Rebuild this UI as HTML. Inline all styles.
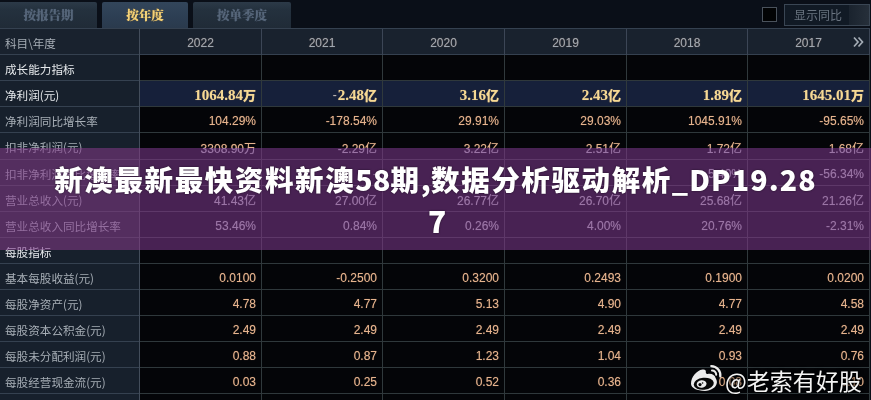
<!DOCTYPE html>
<html><head><meta charset="utf-8">
<style>
*{margin:0;padding:0;box-sizing:border-box}
html,body{width:871px;height:400px;overflow:hidden;background:#0a0f18}
body{position:relative;font-family:"Liberation Sans","Noto Sans CJK SC",sans-serif;}
.tab{position:absolute;top:2px;height:26px;border-radius:2px 2px 0 0;background:linear-gradient(#2c3a48,#24313e 30%,#202b37);font:900 12.5px "Noto Serif CJK SC",serif;color:#56667a;text-align:center;line-height:26px;text-shadow:0 0 1px #4a586a}
.tab.act{background:linear-gradient(#33465b,#2d3f54 50%,#2a3a4d);color:#f2d27a;text-shadow:0 0 1px #c08a30}
.chk{position:absolute;left:762px;top:7px;width:15px;height:15px;background:#020304;border:1px solid #4a525c}
.btn{position:absolute;left:784px;top:4px;width:86px;height:22px;border:1px solid #3a4654;background:#111a25;font:12px "Noto Sans CJK SC",sans-serif;color:#6a7480;line-height:20px;padding-left:9px}
.btn i{position:absolute;right:0;top:0;width:20px;height:20px;background:linear-gradient(90deg,#1a232e,#262f3a)}
.row{position:absolute;left:0;width:871px}
.c{position:absolute;top:0;height:100%;display:flex;align-items:center;white-space:nowrap;padding-top:2px}
.lab{left:0;width:140px;background:#17202c;color:#a7aeb6;font-size:11.6px;padding-left:5px;font-family:"Noto Sans CJK SC",sans-serif}
.sec .lab{color:#e6e9ec}
.hl .lab{color:#e6e9ec}
.d{background:#040508;justify-content:flex-end;padding-right:5px;color:#e6b48e;text-shadow:0 0 1px rgba(230,170,130,.5);font-size:12px;font-family:"Liberation Sans","Noto Sans CJK SC",sans-serif}
.hl .d{background:#16203a;color:#f5d994;padding-top:3px;padding-right:5px;font-weight:bold;font-family:"Liberation Serif",serif;font-size:15px}
.hl .d .u{font:900 13px "Noto Sans CJK SC",sans-serif;position:relative;top:-1px}
.hl .d .m{font:12px "Liberation Sans",sans-serif;color:#b8b8b8;margin-right:1px}
.hdr .c{background:#19222e}
.hdr .d{color:#9ea7b1;justify-content:center;padding:3px 0 0}
.hline{position:absolute;left:0;width:870px;height:1px;background:#2f383b}
.hline.hb{background:#354150}
.vline{position:absolute;top:29px;width:1px;height:371px;background:#30393c}
.vline.vb{background:#434d5b}
.vline.vh{height:26px;background:#3c4656}
.banner{position:absolute;left:0;top:148px;width:871px;height:102px;background:rgba(128,58,148,0.55);-webkit-backdrop-filter:grayscale(1);backdrop-filter:grayscale(1)}
.title{position:absolute;left:0;top:159px;width:871px;text-align:center;color:#fff;white-space:nowrap;font:900 28.5px/40px "Noto Sans CJK SC",sans-serif;letter-spacing:1.6px;text-shadow:0 0 2px rgba(0,0,0,.6)}
.title span{letter-spacing:0.3px}
.title span.dp{letter-spacing:1.1px}
.t7{position:absolute;left:428px;top:200px;color:#fff;font:900 30px/40px "Noto Sans CJK SC",sans-serif;text-shadow:0 0 2px rgba(0,0,0,.6)}
.wm{position:absolute;left:725px;top:363px;font:23px "Noto Sans CJK SC",sans-serif;color:#f4f4f4;text-shadow:0 0 1px #000,0 0 3px rgba(0,0,0,.9),0 0 5px rgba(0,0,0,.6)}
.arr{position:absolute;left:853px;top:36px}
</style></head><body>
<div class="tab" style="left:0;width:97px;border-top-left-radius:0">按报告期</div>
<div class="tab act" style="left:102px;width:86px">按年度</div>
<div class="tab" style="left:193px;width:98px">按单季度</div>
<div class="chk"></div>
<div class="btn">显示同比<i></i></div>

<div class="row hdr" style="top:29px;height:25px">
<div class="c lab">科目\年度</div>
<div class="c d" style="left:140px;width:121px">2022</div>
<div class="c d" style="left:262px;width:120px">2021</div>
<div class="c d" style="left:383px;width:121px">2020</div>
<div class="c d" style="left:505px;width:121px">2019</div>
<div class="c d" style="left:627px;width:120px">2018</div>
<div class="c d" style="left:748px;width:121px">2017</div>
</div>
<div class="row sec" style="top:55px;height:25px">
<div class="c lab">成长能力指标</div>
<div class="c d" style="left:140px;width:121px"></div>
<div class="c d" style="left:262px;width:120px"></div>
<div class="c d" style="left:383px;width:121px"></div>
<div class="c d" style="left:505px;width:121px"></div>
<div class="c d" style="left:627px;width:120px"></div>
<div class="c d" style="left:748px;width:121px"></div>
</div>
<div class="row hl" style="top:81px;height:25px">
<div class="c lab">净利润(元)</div>
<div class="c d" style="left:140px;width:121px">1064.84<span class="u">万</span></div>
<div class="c d" style="left:262px;width:120px"><span class="m">-</span>2.48<span class="u">亿</span></div>
<div class="c d" style="left:383px;width:121px">3.16<span class="u">亿</span></div>
<div class="c d" style="left:505px;width:121px">2.43<span class="u">亿</span></div>
<div class="c d" style="left:627px;width:120px">1.89<span class="u">亿</span></div>
<div class="c d" style="left:748px;width:121px">1645.01<span class="u">万</span></div>
</div>
<div class="row " style="top:107px;height:25px">
<div class="c lab">净利润同比增长率</div>
<div class="c d" style="left:140px;width:121px">104.29%</div>
<div class="c d" style="left:262px;width:120px">-178.54%</div>
<div class="c d" style="left:383px;width:121px">29.91%</div>
<div class="c d" style="left:505px;width:121px">29.03%</div>
<div class="c d" style="left:627px;width:120px">1045.91%</div>
<div class="c d" style="left:748px;width:121px">-95.65%</div>
</div>
<div class="row " style="top:133px;height:26px">
<div class="c lab">扣非净利润(元)</div>
<div class="c d" style="left:140px;width:121px">3308.90万</div>
<div class="c d" style="left:262px;width:120px">-2.29亿</div>
<div class="c d" style="left:383px;width:121px">3.22亿</div>
<div class="c d" style="left:505px;width:121px">2.51亿</div>
<div class="c d" style="left:627px;width:120px">1.72亿</div>
<div class="c d" style="left:748px;width:121px">1.68亿</div>
</div>
<div class="row " style="top:160px;height:25px">
<div class="c lab">扣非净利润同比增长率</div>
<div class="c d" style="left:140px;width:121px">-</div>
<div class="c d" style="left:262px;width:120px">-</div>
<div class="c d" style="left:383px;width:121px">-</div>
<div class="c d" style="left:505px;width:121px">-</div>
<div class="c d" style="left:627px;width:120px">5.40%</div>
<div class="c d" style="left:748px;width:121px">-56.34%</div>
</div>
<div class="row " style="top:186px;height:25px">
<div class="c lab">营业总收入(元)</div>
<div class="c d" style="left:140px;width:121px">41.43亿</div>
<div class="c d" style="left:262px;width:120px">27.00亿</div>
<div class="c d" style="left:383px;width:121px">26.77亿</div>
<div class="c d" style="left:505px;width:121px">26.70亿</div>
<div class="c d" style="left:627px;width:120px">25.68亿</div>
<div class="c d" style="left:748px;width:121px">21.26亿</div>
</div>
<div class="row " style="top:212px;height:25px">
<div class="c lab">营业总收入同比增长率</div>
<div class="c d" style="left:140px;width:121px">53.46%</div>
<div class="c d" style="left:262px;width:120px">0.84%</div>
<div class="c d" style="left:383px;width:121px">0.26%</div>
<div class="c d" style="left:505px;width:121px">4.00%</div>
<div class="c d" style="left:627px;width:120px">20.76%</div>
<div class="c d" style="left:748px;width:121px">-2.31%</div>
</div>
<div class="row sec" style="top:238px;height:25px">
<div class="c lab">每股指标</div>
<div class="c d" style="left:140px;width:121px"></div>
<div class="c d" style="left:262px;width:120px"></div>
<div class="c d" style="left:383px;width:121px"></div>
<div class="c d" style="left:505px;width:121px"></div>
<div class="c d" style="left:627px;width:120px"></div>
<div class="c d" style="left:748px;width:121px"></div>
</div>
<div class="row " style="top:264px;height:25px">
<div class="c lab">基本每股收益(元)</div>
<div class="c d" style="left:140px;width:121px">0.0100</div>
<div class="c d" style="left:262px;width:120px">-0.2500</div>
<div class="c d" style="left:383px;width:121px">0.3200</div>
<div class="c d" style="left:505px;width:121px">0.2493</div>
<div class="c d" style="left:627px;width:120px">0.1900</div>
<div class="c d" style="left:748px;width:121px">0.0200</div>
</div>
<div class="row " style="top:290px;height:25px">
<div class="c lab">每股净资产(元)</div>
<div class="c d" style="left:140px;width:121px">4.78</div>
<div class="c d" style="left:262px;width:120px">4.77</div>
<div class="c d" style="left:383px;width:121px">5.13</div>
<div class="c d" style="left:505px;width:121px">4.90</div>
<div class="c d" style="left:627px;width:120px">4.77</div>
<div class="c d" style="left:748px;width:121px">4.58</div>
</div>
<div class="row " style="top:316px;height:25px">
<div class="c lab">每股资本公积金(元)</div>
<div class="c d" style="left:140px;width:121px">2.49</div>
<div class="c d" style="left:262px;width:120px">2.49</div>
<div class="c d" style="left:383px;width:121px">2.49</div>
<div class="c d" style="left:505px;width:121px">2.49</div>
<div class="c d" style="left:627px;width:120px">2.49</div>
<div class="c d" style="left:748px;width:121px">2.49</div>
</div>
<div class="row " style="top:342px;height:25px">
<div class="c lab">每股未分配利润(元)</div>
<div class="c d" style="left:140px;width:121px">0.88</div>
<div class="c d" style="left:262px;width:120px">0.87</div>
<div class="c d" style="left:383px;width:121px">1.23</div>
<div class="c d" style="left:505px;width:121px">1.04</div>
<div class="c d" style="left:627px;width:120px">0.93</div>
<div class="c d" style="left:748px;width:121px">0.76</div>
</div>
<div class="row " style="top:368px;height:25px">
<div class="c lab">每股经营现金流(元)</div>
<div class="c d" style="left:140px;width:121px">0.03</div>
<div class="c d" style="left:262px;width:120px">0.25</div>
<div class="c d" style="left:383px;width:121px">0.52</div>
<div class="c d" style="left:505px;width:121px">0.36</div>
<div class="c d" style="left:627px;width:120px">0.08</div>
<div class="c d" style="left:748px;width:121px">0.10</div>
</div>
<div class="row " style="top:394px;height:6px">
<div class="c lab"></div>
<div class="c d" style="left:140px;width:121px"></div>
<div class="c d" style="left:262px;width:120px"></div>
<div class="c d" style="left:383px;width:121px"></div>
<div class="c d" style="left:505px;width:121px"></div>
<div class="c d" style="left:627px;width:120px"></div>
<div class="c d" style="left:748px;width:121px"></div>
</div>
<div class="hline hb" style="top:28px"></div>
<div class="hline hb" style="top:54px"></div>
<div class="hline hb" style="top:80px;width:139px"></div>
<div class="hline" style="top:80px;left:139px;width:731px"></div>
<div class="hline hb" style="top:106px;width:139px"></div>
<div class="hline" style="top:106px;left:139px;width:731px"></div>
<div class="hline hb" style="top:132px;width:139px"></div>
<div class="hline" style="top:132px;left:139px;width:731px"></div>
<div class="hline hb" style="top:159px;width:139px"></div>
<div class="hline" style="top:159px;left:139px;width:731px"></div>
<div class="hline hb" style="top:185px;width:139px"></div>
<div class="hline" style="top:185px;left:139px;width:731px"></div>
<div class="hline hb" style="top:211px;width:139px"></div>
<div class="hline" style="top:211px;left:139px;width:731px"></div>
<div class="hline hb" style="top:237px;width:139px"></div>
<div class="hline" style="top:237px;left:139px;width:731px"></div>
<div class="hline hb" style="top:263px;width:139px"></div>
<div class="hline" style="top:263px;left:139px;width:731px"></div>
<div class="hline hb" style="top:289px;width:139px"></div>
<div class="hline" style="top:289px;left:139px;width:731px"></div>
<div class="hline hb" style="top:315px;width:139px"></div>
<div class="hline" style="top:315px;left:139px;width:731px"></div>
<div class="hline hb" style="top:341px;width:139px"></div>
<div class="hline" style="top:341px;left:139px;width:731px"></div>
<div class="hline hb" style="top:367px;width:139px"></div>
<div class="hline" style="top:367px;left:139px;width:731px"></div>
<div class="hline hb" style="top:393px;width:139px"></div>
<div class="hline" style="top:393px;left:139px;width:731px"></div>
<div class="vline vb" style="left:139px"></div>
<div class="vline vh" style="left:261px"></div>
<div class="vline" style="left:261px;top:55px;height:345px"></div>
<div class="vline vh" style="left:382px"></div>
<div class="vline" style="left:382px;top:55px;height:345px"></div>
<div class="vline vh" style="left:504px"></div>
<div class="vline" style="left:504px;top:55px;height:345px"></div>
<div class="vline vh" style="left:626px"></div>
<div class="vline" style="left:626px;top:55px;height:345px"></div>
<div class="vline vh" style="left:747px"></div>
<div class="vline" style="left:747px;top:55px;height:345px"></div>
<div class="vline vh" style="left:869px"></div>
<div class="vline" style="left:869px;top:55px;height:345px"></div>
<svg class="arr" width="12" height="12" viewBox="0 0 12 12"><path d="M1,1.5 L5,6 L1,10.5 M5.5,1.5 L9.5,6 L5.5,10.5" fill="none" stroke="#a4acb5" stroke-width="1.7"/></svg>
<div class="banner"></div>
<div class="title">新澳最新最快资料新澳<span>58</span>期<span>,</span>数据分析驱动解析<span class="dp">_DP19.28</span></div>
<div class="t7">7</div>
<svg class="wb" width="36" height="32" viewBox="0 0 36 32" style="position:absolute;left:688px;top:362px">
<path d="M3,21.8 C3,15 8.5,8.5 14.5,7.5 C17,7.1 18.3,8.3 17.8,10.5 C18,11.6 18.6,12.2 19.6,11.9 C23.5,11 27,13 27.6,16 C28.5,17.5 29,19 28.9,20.6 C28.5,25.8 22.5,28.9 17,28.9 C9,28.9 3,26 3,21.8 Z" fill="#ececec"/>
<ellipse cx="15.75" cy="21.8" rx="10.1" ry="6" fill="#080808" transform="rotate(-6 15.75 21.8)"/>
<ellipse cx="13.6" cy="22.1" rx="4.9" ry="3.75" fill="#ececec" transform="rotate(-6 13.6 22.1)"/>
<circle cx="12" cy="22.6" r="1.6" fill="#080808"/>
<circle cx="14.6" cy="21" r="0.8" fill="#080808"/>
<path d="M23.3,4.1 A9.1,9.1 0 0 1 32.3,14.3" fill="none" stroke="#ececec" stroke-width="2.3" stroke-linecap="round"/>
<path d="M24,8.6 A4.1,4.1 0 0 1 28.2,12.8" fill="none" stroke="#ececec" stroke-width="2" stroke-linecap="round"/>
</svg>
<div class="wm">@老索有好股</div>
</body></html>
